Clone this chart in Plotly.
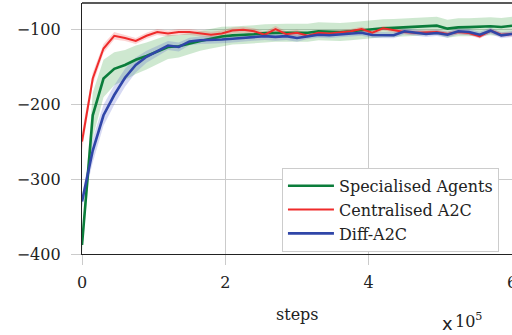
import plotly.graph_objects as go

# steps in units of 1e5
steps = [0.00, 0.15, 0.30, 0.45, 0.60, 0.75, 0.90, 1.05, 1.20, 1.35, 1.50,
         1.65, 1.80, 1.95, 2.10, 2.25, 2.40, 2.55, 2.70, 2.85, 3.00,
         3.15, 3.30, 3.45, 3.60, 3.75, 3.90, 4.05, 4.20, 4.35, 4.50,
         4.65, 4.80, 4.95, 5.10, 5.25, 5.40, 5.55, 5.70, 5.85, 6.00]

spec_mean = [-388, -215, -166, -153, -148, -141, -136, -130, -124, -123, -119,
             -116, -113, -110, -108.5, -108, -107, -105.5, -105, -105, -105,
             -105, -103, -104, -104, -103, -101.5, -101, -99, -98.5, -97.5,
             -97, -96.5, -95.5, -99.5, -97.8, -97.5, -97.3, -96.4, -97.3, -95.6]
spec_std = [10, 30, 25, 22, 20, 19, 18, 17, 16, 15, 14,
            13, 13, 13, 12, 12, 12, 12, 12, 12, 12,
            12, 12, 12, 12, 12, 12, 12, 12, 12, 12,
            12, 12, 12, 12, 12, 12, 12, 12, 12, 12]

cent_mean = [-250, -166, -126, -109, -112, -116, -109, -104, -106, -104, -104,
             -106, -107.6, -106, -102, -101, -103, -107.6, -100, -107, -105,
             -109, -105, -106, -105, -103, -100, -105, -99, -102, -104,
             -105, -104, -104, -106.7, -104, -105.3, -109.8, -102.2, -107.6, -106.7]
cent_std = [12, 8, 6, 5, 4, 4, 4, 4, 4, 4, 4,
            4, 4, 4, 4, 4, 4, 4, 4, 4, 4,
            3, 3, 3, 3, 3, 3, 3, 3, 3, 3,
            3, 3, 3, 3, 3, 3, 3, 3, 3, 3]

diff_mean = [-330, -262, -215, -188, -165, -148, -137, -129, -122, -124, -116.5,
             -115, -115, -114, -113, -112, -111, -109.5, -110.5, -109.5, -112,
             -109.3, -107.6, -108.4, -107, -106.2, -105, -108, -108.4, -108.4, -103,
             -105.3, -106.7, -105.3, -107.6, -103, -104, -107.6, -102.2, -108.4, -106.7]
diff_std = [8, 16, 14, 13, 12, 10, 8, 7, 6, 6, 5,
            5, 5, 5, 5, 5, 5, 5, 5, 5, 5,
            4, 4, 4, 4, 4, 4, 4, 4, 4, 4,
            4, 4, 4, 4, 4, 4, 4, 4, 4, 4]

series = [
    ("Specialised Agents", spec_mean, spec_std, "#0b7d3b", "rgba(30,150,40,0.22)", 2.6),
    ("Centralised A2C", cent_mean, cent_std, "#ef2b2b", "rgba(240,60,60,0.22)", 2.0),
    ("Diff-A2C", diff_mean, diff_std, "#3046a8", "rgba(70,80,200,0.22)", 2.6),
]

fig = go.Figure()
for name, m, s, col, fcol, w in series:
    up = [a + b for a, b in zip(m, s)]
    lo = [a - b for a, b in zip(m, s)]
    fig.add_trace(go.Scatter(x=steps, y=up, mode="lines", line=dict(width=0),
                             showlegend=False, hoverinfo="skip"))
    fig.add_trace(go.Scatter(x=steps, y=lo, mode="lines", line=dict(width=0),
                             fill="tonexty", fillcolor=fcol,
                             showlegend=False, hoverinfo="skip"))
for name, m, s, col, fcol, w in series:
    fig.add_trace(go.Scatter(x=steps, y=m, mode="lines", name=name,
                             line=dict(color=col, width=w)))

font = "DejaVu Serif"
fig.update_layout(
    width=512, height=335,
    margin=dict(l=82, r=0, t=3, b=81, autoexpand=False),
    paper_bgcolor="white", plot_bgcolor="white",
    font=dict(family=font, size=16, color="#222"),
    showlegend=True,
    legend=dict(x=0.465, y=0.343, xanchor="left", yanchor="top",
                traceorder="normal", itemwidth=46,
                bgcolor="white", bordercolor="#cccccc", borderwidth=1,
                font=dict(family=font, size=16), tracegroupgap=0),
)
fig.update_xaxes(range=[0, 6], tickvals=[0, 2, 4, 6], ticktext=["0", "2", "4", "6"],
                 automargin=False, ticklabeloverflow="allow",
                 tickfont=dict(family=font, size=16),
                 showgrid=True, gridcolor="#cbcbcb", gridwidth=1,
                 showline=True, linecolor="#222", linewidth=1.3, mirror=False,
                 ticks="outside", ticklen=10, tickcolor="#cbcbcb",
                 ticklabelstandoff=4, zeroline=False)
fig.update_yaxes(range=[-400, -65.3], tickvals=[-400, -300, -200, -100],
                 automargin=False,
                 tickfont=dict(family=font, size=16),
                 showgrid=True, gridcolor="#cbcbcb", gridwidth=1,
                 showline=True, linecolor="#222", linewidth=1.3,
                 ticks="outside", ticklen=10, tickcolor="#cbcbcb",
                 ticklabelstandoff=7, zeroline=False)
# top frame line
fig.add_shape(type="line", xref="paper", yref="paper", x0=0, x1=1, y0=1, y1=1,
              line=dict(color="#222", width=1.3))

fig.add_annotation(text="steps", xref="paper", yref="paper", x=0.5, y=-0.243,
                   xanchor="center", yanchor="middle", showarrow=False,
                   font=dict(family=font, size=16))
fig.add_annotation(text="x", xref="paper", yref="paper", x=0.868, y=-0.275,
                   xanchor="right", yanchor="middle", showarrow=False,
                   font=dict(family="DejaVu Sans", size=18))
fig.add_annotation(text="10<sup>5</sup>", xref="paper", yref="paper", x=0.862, y=-0.265,
                   xanchor="left", yanchor="middle", showarrow=False,
                   font=dict(family=font, size=16))

fig.write_html("out.html", config={"displayModeBar": False},
               post_script="document.body.style.margin='0';")
